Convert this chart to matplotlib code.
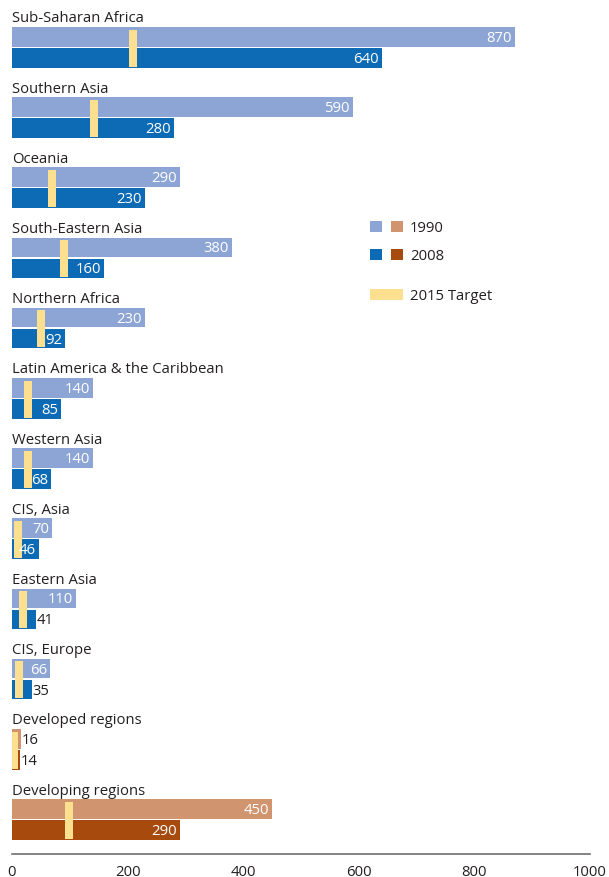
import matplotlib
matplotlib.use("Agg")
import matplotlib.pyplot as plt
from matplotlib.patches import Rectangle

regions = ["Sub-Saharan Africa", "Southern Asia", "Oceania", "South-Eastern Asia",
           "Northern Africa", "Latin America & the Caribbean", "Western Asia",
           "CIS, Asia", "Eastern Asia", "CIS, Europe", "Developed regions",
           "Developing regions"]
v1990 = [870, 590, 290, 380, 230, 140, 140, 70, 110, 66, 16, 450]
v2008 = [640, 280, 230, 160, 92, 85, 68, 46, 41, 35, 14, 290]
target2015 = [210, 142, 69, 90, 50, 28, 28, 10, 19, 12, 4, 99]
aggregate = [False] * 10 + [True, True]
xticks = [0, 200, 400, 600, 800, 1000]

C1990 = "#8DA5D4"
C2008 = "#0D6AB4"
C1990b = "#D0956E"
C2008b = "#A64A0E"
CTGT = "#FDE08F"
TXT = "#231F20"

plt.rcParams['font.family'] = ['Open Sans', 'DejaVu Sans']

W, H = 609, 878
fig = plt.figure(figsize=(W / 100, H / 100), dpi=100)
x0, x1 = 12, 590
ybot = 855
ax = fig.add_axes([x0 / W, (H - ybot) / H, (x1 - x0) / W, ybot / H])
ax.set_xlim(0, 1000)
ax.set_ylim(ybot, 0)

pitch = 70.2
bh = 19.5
fs = 10.7
px_per_unit = (x1 - x0) / 1000.0

for i, name in enumerate(regions):
    top = 28 + i * pitch
    ca = C1990b if aggregate[i] else C1990
    cb = C2008b if aggregate[i] else C2008
    y1 = top + bh / 2
    y2 = top + bh + 1.5 + bh / 2
    ax.barh([y1], [v1990[i]], height=bh, color=ca, left=0)
    ax.barh([y2], [v2008[i]], height=bh, color=cb, left=0)
    tw = 8 / px_per_unit
    ax.add_patch(Rectangle((target2015[i] - tw / 2, top + 2.5), tw, 2 * bh + 1.5 - 3.5,
                           color=CTGT, zorder=3, lw=0))
    ax.text(0, top - 1.5, name, fontsize=fs, color=TXT, ha='left', va='bottom')
    for val, yc in ((v1990[i], y1), (v2008[i], y2)):
        w = val * px_per_unit
        if w > 25:
            ax.text(val - 3 / px_per_unit, yc + 0.5, str(val), fontsize=fs, color='white',
                    ha='right', va='center', zorder=4)
        else:
            ax.text(val + 0.5 / px_per_unit, yc + 0.5, str(val), fontsize=fs, color=TXT,
                    ha='left', va='center', zorder=4)

for s in ['top', 'right', 'left']:
    ax.spines[s].set_visible(False)
ax.spines['bottom'].set_color('#6D6E71')
ax.spines['bottom'].set_linewidth(1.2)
ax.set_yticks([])
ax.set_xticks(xticks)
ax.set_xticklabels([str(t) for t in xticks], fontsize=fs, color=TXT)
ax.tick_params(axis='x', length=0, pad=7)

lg = fig.add_axes([0, 0, 1, 1])
lg.set_xlim(0, W)
lg.set_ylim(H, 0)
lg.axis('off')
lg.patch.set_alpha(0)
lg.add_patch(Rectangle((370, 222), 12, 11, color=C1990, lw=0))
lg.add_patch(Rectangle((391, 222), 12, 11, color=C1990b, lw=0))
lg.add_patch(Rectangle((370, 250), 12, 11, color=C2008, lw=0))
lg.add_patch(Rectangle((391, 250), 12, 11, color=C2008b, lw=0))
lg.add_patch(Rectangle((370, 290), 33, 11, color=CTGT, lw=0))
lg.text(410, 229, "1990", fontsize=fs, color=TXT, va='center', ha='left')
lg.text(410, 257, "2008", fontsize=fs, color=TXT, va='center', ha='left')
lg.text(410, 297, "2015 Target", fontsize=fs, color=TXT, va='center', ha='left')

fig.savefig("out.png", dpi=100)
